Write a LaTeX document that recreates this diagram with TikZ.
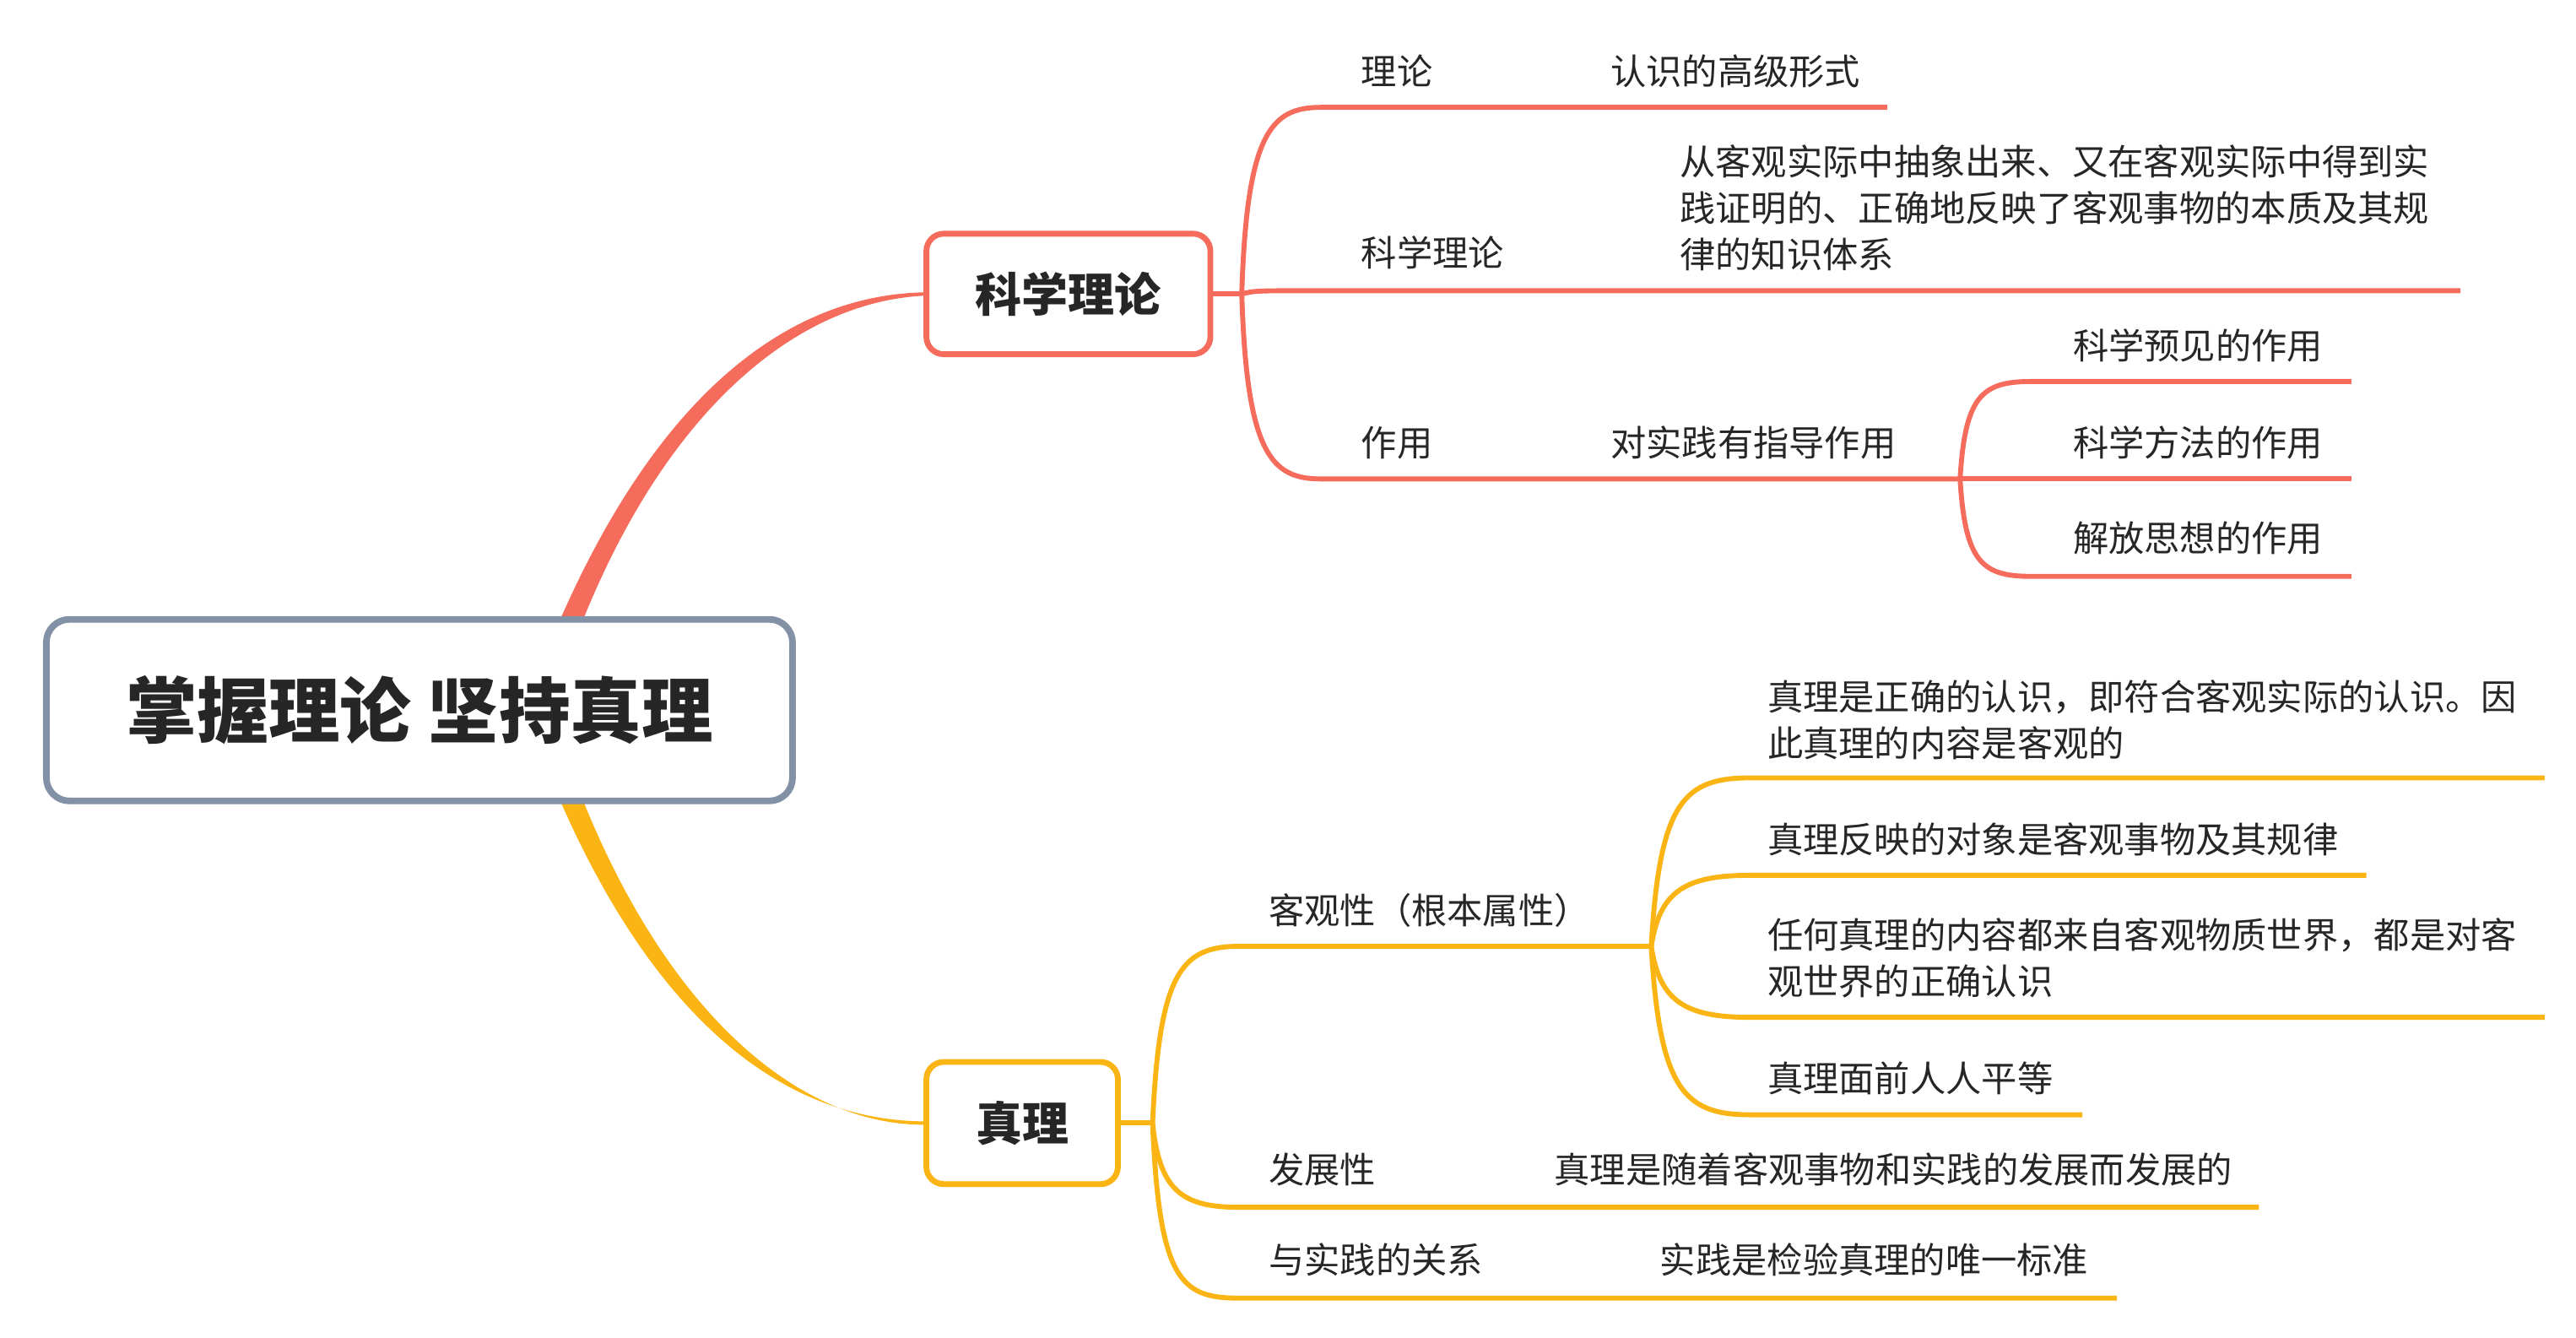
\documentclass[tikz,border=0pt]{standalone}
\usepackage{fontspec}
\setmainfont{Noto Sans CJK SC}
\usetikzlibrary{calc,positioning}
\definecolor{redb}{RGB}{245,108,92}
\definecolor{yelb}{RGB}{250,180,20}
\definecolor{rootc}{RGB}{130,145,165}
\tikzset{
  >=stealth,
  txt/.style={anchor=west,inner sep=0pt,xshift=-0.1cm,font=\fontsize{12.3pt}{16pt}\selectfont,text=black!85},
  mainbox/.style={draw,rounded corners=6pt,line width=0.07cm,fill=white,font=\bfseries\fontsize{16pt}{18pt}\selectfont,text=black!85},
  branch/.style={line width=0.06cm}
}
\begin{document}
\begin{tikzpicture}[x=0.02cm,y=-0.02cm]
\useasboundingbox (0,0) rectangle (1560,810);

% trunk curves
\fill[redb] (338,378) .. controls (400,235) and (480,178) .. (561,177) -- (561,179) .. controls (485,182) and (405,245) .. (352,378) -- cycle;
\fill[yelb] (338,482) .. controls (400,625) and (480,679) .. (561,679) -- (561,681) .. controls (485,682) and (405,615) .. (352,482) -- cycle;

\node[draw=rootc,rounded corners=8pt,line width=0.08cm,fill=white,minimum width=9.04cm,minimum height=2.2cm,font=\bfseries\fontsize{24.6pt}{28pt}\selectfont,text=black!85] (root) at (254,430) {掌握理论 坚持真理};
\node[mainbox,draw=redb,minimum width=3.44cm,minimum height=1.46cm] (sci) at (647,178) {科学理论};
\node[mainbox,draw=yelb,minimum width=2.32cm,minimum height=1.48cm] (truth) at (619,680) {真理};

% red branch
\coordinate (rh) at (752,178);
\coordinate (sh) at (1187,290);
\begin{scope}[draw=redb,branch]
\draw (sci.east) -- (rh);
\draw (rh) .. controls (755,80) and (770,65) .. (800,65) -- (1143,65);
\draw (rh) .. controls (760,176) .. (800,176) -- (1490,176);
\draw (rh) .. controls (755,275) and (770,290) .. (800,290) -- (sh);
\draw (sh) .. controls (1190,240) and (1200,231) .. (1230,231) -- (1424,231);
\draw (sh) -- (1424,290);
\draw (sh) .. controls (1190,340) and (1200,349) .. (1230,349) -- (1424,349);
\end{scope}
\node[txt] (t1) at (829,43) {理论};
\node[txt] (t1a) at (980,43) {认识的高级形式};
\node[txt] (t2) at (829,153) {科学理论};
\node[txt,align=left] (t2a) at (1022,126) {从客观实际中抽象出来、又在客观实际中得到实\\践证明的、正确地反映了客观事物的本质及其规\\律的知识体系};
\node[txt] (t3) at (829,268) {作用};
\node[txt] (t3a) at (980,268) {对实践有指导作用};
\node[txt] (t3b) at (1260,209) {科学预见的作用};
\node[txt] (t3c) at (1260,268) {科学方法的作用};
\node[txt] (t3d) at (1260,326) {解放思想的作用};

% yellow branch
\coordinate (yh) at (698,680);
\coordinate (oh) at (1000,573);
\begin{scope}[draw=yelb,branch]
\draw (truth.east) -- (yh);
\draw (yh) .. controls (702,590) and (715,573) .. (750,573) -- (oh);
\draw (yh) .. controls (702,720) and (715,731) .. (750,731) -- (1368,731);
\draw (yh) .. controls (702,775) and (715,786) .. (750,786) -- (1282,786);
\draw (oh) .. controls (1005,485) and (1020,471) .. (1060,471) -- (1541,471);
\draw (oh) .. controls (1005,540) and (1020,530) .. (1060,530) -- (1433,530);
\draw (oh) .. controls (1005,606) and (1020,616) .. (1060,616) -- (1541,616);
\draw (oh) .. controls (1005,660) and (1020,675) .. (1060,675) -- (1261,675);
\end{scope}
\node[txt] (y1) at (773,551) {客观性（根本属性）};
\node[txt,align=left] (y1a) at (1075,436) {真理是正确的认识，即符合客观实际的认识。因\\此真理的内容是客观的};
\node[txt] (y1b) at (1075,508) {真理反映的对象是客观事物及其规律};
\node[txt,align=left] (y1c) at (1075,580) {任何真理的内容都来自客观物质世界，都是对客\\观世界的正确认识};
\node[txt] (y1d) at (1075,653) {真理面前人人平等};
\node[txt] (y2) at (773,708) {发展性};
\node[txt] (y2a) at (946,708) {真理是随着客观事物和实践的发展而发展的};
\node[txt] (y3) at (773,763) {与实践的关系};
\node[txt] (y3a) at (1010,763) {实践是检验真理的唯一标准};
\end{tikzpicture}
\end{document}
